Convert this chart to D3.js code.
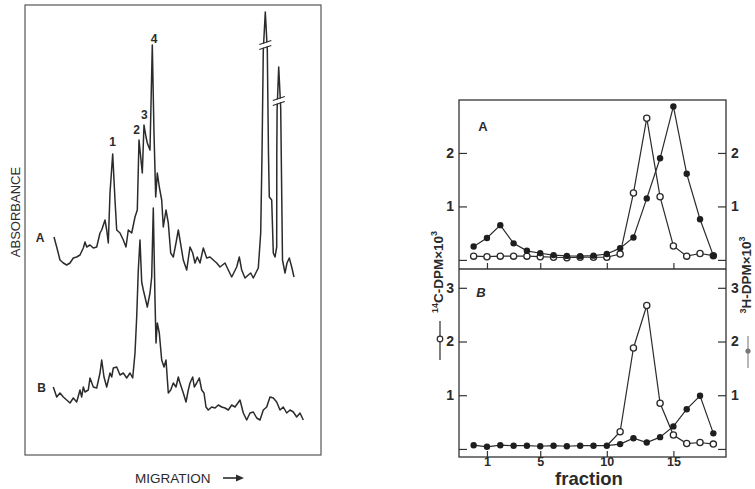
<!DOCTYPE html>
<html lang="en">
<head>
<meta charset="utf-8">
<title>Absorbance traces and fraction profiles</title>
<script src="https://cdn.jsdelivr.net/npm/d3@7"></script>
<style>
	body { margin: 0; background: #fff; }
	svg { display: block; font-family: "Liberation Sans", Arial, sans-serif; }
	.axis path { display: none; }
	.axis line { stroke: #333; stroke-width: 1.2; }
	.axis text { font-family: "Liberation Sans", Arial, sans-serif; font-size: 14px; font-weight: bold; fill: #2a2a2a; }
</style>
</head>
<body>
<script>

//Left panel: densitometer traces (migration position, absorbance, arbitrary units)
var traceAPos = [29, 31.7, 35, 38.3, 41.7, 45, 48.3, 51.7, 55, 58.3, 60, 61.7, 65, 68.3, 71.7, 75, 76.7, 80, 81.7, 83.3,
	85, 87.7, 90, 91.7, 95, 98.3, 101, 103.3, 106.7, 110, 112.3, 114, 115.7, 117.3, 119, 121, 122.3, 125, 127.3, 129,
	130.7, 132.3, 134.3, 136.7, 138.3, 141, 143.3, 145.7, 148.3, 151, 153.3, 155, 158.3, 161.7, 165, 167.7, 170, 172.3, 175, 178.3,
	181.7, 185, 188.3, 191.7, 195, 200, 203.3, 206.7, 211.7, 214.3, 216.7, 220, 223.3, 225.7, 228.3, 233.3, 235.7, 237, 238.3, 240.3,
	242.3, 243.5, 244.3, 246.7, 248.3, 250, 251.7, 251.8, 252.1, 253.7, 255.7, 257.5, 260, 262, 264.3, 266.7, 269];
var traceAVal = [21.8, 20.8, 19.5, 19.2, 19.0, 19.2, 19.7, 19.8, 20.0, 20.7, 21.3, 20.8, 21.0, 20.7, 20.8, 22.2, 22.5, 23.5, 22.5, 21.2,
	26.2, 30.1, 25.5, 22.5, 22.2, 21.5, 20.8, 22.5, 22.2, 23.8, 24.5, 31.5, 29.8, 28.2, 33.0, 31.8, 31.2, 30.5, 41.0, 32.2,
	25.8, 28.2, 26.8, 25.5, 22.8, 24.5, 23.2, 20.2, 19.8, 21.2, 22.5, 21.5, 19.5, 18.5, 20.8, 20.2, 19.2, 19.8, 19.2, 20.7,
	19.7, 19.8, 19.5, 19.2, 18.8, 19.2, 18.5, 17.8, 18.8, 19.8, 18.5, 17.7, 18.0, 18.2, 17.7, 18.7, 22.2, 30.0, 40.5, 44.3,
	40.5, 30.0, 25.8, 25.5, 20.2, 19.8, 20.8, 30.0, 34.5, 38.8, 34.7, 19.5, 18.2, 19.2, 19.7, 18.8, 17.8];

var traceBPos = [28.3, 31.7, 35, 38.3, 41.7, 45, 48.3, 51.7, 55, 56.7, 58.3, 60, 63.3, 65, 68.3, 71.7, 75, 76.7, 79, 81.7,
	85, 86.7, 88.3, 91.7, 95, 98.3, 101.7, 105, 107.7, 110, 111.7, 113.3, 115, 116, 116.7, 118.3, 120, 122.3, 125, 126.7,
	128.3, 130, 131, 132.3, 134.3, 136.7, 139, 141, 143.3, 145.7, 148.3, 151, 153.3, 155, 158.3, 161, 163.3, 165, 167.7, 169.3,
	171.7, 174.3, 176.7, 179, 181, 183.3, 186.7, 190, 193.3, 196.7, 200, 203.3, 206.7, 210, 215, 218.3, 221.7, 225, 228.3, 231.7,
	235, 238.3, 241.7, 245, 248.3, 251.7, 255, 258.3, 261.7, 265, 268.3, 271.7, 275, 278.3];
var traceBVal = [6.8, 5.8, 6.2, 5.8, 5.5, 5.2, 5.7, 5.3, 6.5, 5.8, 6.8, 6.3, 6.5, 7.7, 6.8, 6.7, 8.2, 9.5, 7.8, 6.8,
	8.2, 7.8, 8.7, 8.8, 8.0, 8.2, 7.7, 8.2, 7.7, 10.2, 13.8, 18.5, 21.5, 19.0, 17.3, 16.5, 15.8, 14.8, 16.2, 17.8,
	24.7, 15.5, 11.2, 13.2, 12.2, 9.5, 8.8, 9.5, 6.2, 6.5, 7.2, 6.8, 7.8, 7.2, 6.2, 5.3, 6.5, 7.2, 7.8, 6.8,
	7.2, 7.7, 6.5, 6.2, 4.8, 4.5, 4.8, 4.7, 5.0, 4.8, 4.7, 4.5, 5.0, 4.8, 5.5, 4.2, 3.5, 4.2, 4.3, 3.7,
	3.5, 4.5, 4.8, 5.8, 5.7, 5.3, 4.5, 4.8, 4.2, 4.5, 4.3, 3.8, 4.2, 3.5];

//Off-scale peaks of trace A: where the break marks sit
var breakPos = [240.3, 253.8];
var breakVal = [40.9, 35.3];

//Peak numbers over trace A
var peakNames = ["1", "2", "3", "4"];
var peakPos = [87.7, 111.7, 119.3, 129];
var peakVal = [31.3, 32.5, 34.0, 41.6];

//Right panel: fractions, 14C (open circles) and 3H (filled circles), DPM x 10^3
var fractions = [0, 1, 2, 3, 4, 5, 6, 7, 8, 9, 10, 11, 12, 13, 14, 15, 16, 17, 18];
var carbonA = [0.07, 0.06, 0.07, 0.07, 0.07, 0.06, 0.05, 0.04, 0.05, 0.05, 0.05, 0.11, 1.25, 2.65, 1.18, 0.26, 0.07, 0.12, 0.08];
var tritiumA = [0.25, 0.41, 0.65, 0.31, 0.17, 0.125, 0.09, 0.075, 0.07, 0.08, 0.11, 0.22, 0.42, 1.15, 1.9, 2.87, 1.61, 0.76, 0.08];
var carbonB = [null, null, null, null, null, null, null, null, null, null, 0.06, 0.32, 1.88, 2.67, 0.85, 0.26, 0.1, 0.12, 0.09];
var tritiumB = [0.07, 0.04, 0.07, 0.06, 0.06, 0.05, 0.06, 0.05, 0.06, 0.06, 0.06, 0.09, 0.2, 0.12, 0.22, 0.42, 0.74, 0.99, 0.29];

var fractionTicks = [1, 5, 10, 15];
var ticksA = [0, 1, 2];
var ticksB = [0, 1, 2, 3];

//Width and height
var w = 755;
var h = 489;
var ink = "#2b2b2b";

//Create SVG element
var svg = d3.select("body")
			.append("svg")
			.attr("width", w)
			.attr("height", h);

svg.append("rect").attr("width", w).attr("height", h).attr("fill", "#fff");

// ---------- left panel ----------
var migScale = d3.scaleLinear().domain([0, 296]).range([25, 321]);
var absScale = d3.scaleLinear().domain([0, 45]).range([455, 5]);

svg.append("rect")
	.attr("x", migScale(0))
	.attr("y", absScale(45))
	.attr("width", migScale(296) - migScale(0))
	.attr("height", absScale(0) - absScale(45))
	.attr("fill", "none")
	.attr("stroke", "#555")
	.attr("stroke-width", 1.2);

var traceLine = d3.line()
	.x(function(d) { return migScale(d[0]); })
	.y(function(d) { return absScale(d[1]); });

svg.append("path")
	.datum(d3.zip(traceAPos, traceAVal))
	.attr("d", traceLine)
	.attr("fill", "none")
	.attr("stroke", ink)
	.attr("stroke-width", 1.5)
	.attr("stroke-linejoin", "round");

svg.append("path")
	.datum(d3.zip(traceBPos, traceBVal))
	.attr("d", traceLine)
	.attr("fill", "none")
	.attr("stroke", ink)
	.attr("stroke-width", 1.5)
	.attr("stroke-linejoin", "round");

//Break marks on the two tall peaks
var breaks = svg.selectAll("g.brk")
	.data(d3.zip(breakPos, breakVal))
	.enter()
	.append("g")
	.attr("class", "brk")
	.attr("transform", function(d) { return "translate(" + migScale(d[0]) + "," + absScale(d[1]) + ")"; });

breaks.append("path")
	.attr("d", "M-6,3 L6,-1 L6,-5 L-6,-1 Z")
	.attr("fill", "#fff");
breaks.append("path")
	.attr("d", "M-6,3.5 L6,-0.5 M-6,-1.5 L6,-5.5")
	.attr("stroke", ink)
	.attr("stroke-width", 1.2);

svg.selectAll("text.peak")
	.data(peakNames)
	.enter()
	.append("text")
	.attr("class", "peak")
	.attr("x", function(d, i) { return migScale(peakPos[i]); })
	.attr("y", function(d, i) { return absScale(peakVal[i]); })
	.attr("dy", "0.35em")
	.attr("text-anchor", "middle")
	.attr("font-size", "12px")
	.attr("font-weight", "bold")
	.attr("fill", ink)
	.text(function(d) { return d; });

svg.append("text").attr("x", 40).attr("y", 238).attr("dy", "0.35em")
	.attr("text-anchor", "middle").attr("font-size", "12px").attr("font-weight", "bold").attr("fill", ink).text("A");
svg.append("text").attr("x", 41.5).attr("y", 388).attr("dy", "0.35em")
	.attr("text-anchor", "middle").attr("font-size", "12px").attr("font-weight", "bold").attr("fill", ink).text("B");

svg.append("text")
	.attr("transform", "translate(20,212) rotate(-90)")
	.attr("text-anchor", "middle")
	.attr("font-size", "13px")
	.attr("fill", ink)
	.text("ABSORBANCE");

svg.append("text")
	.attr("x", 135).attr("y", 478).attr("dy", "0.35em")
	.attr("font-size", "13.5px")
	.attr("fill", ink)
	.text("MIGRATION");
svg.append("path")
	.attr("d", "M223,478 L238,478")
	.attr("stroke", ink).attr("stroke-width", 1.6);
svg.append("path")
	.attr("d", "M244,478 L236,474.5 L236,481.5 Z")
	.attr("fill", ink);

// ---------- right panel ----------
var fracScale = d3.scaleLinear().domain([-1.1, 18.95]).range([459, 726]);
var yA = d3.scaleLinear().domain([-0.17, 2.99]).range([269, 100]);
var yB = d3.scaleLinear().domain([-0.15, 3.35]).range([457, 269]);

svg.append("rect")
	.attr("x", 459).attr("y", 100)
	.attr("width", 267).attr("height", 357)
	.attr("fill", "none")
	.attr("stroke", "#333")
	.attr("stroke-width", 1.3);
svg.append("line")
	.attr("x1", 459).attr("x2", 726)
	.attr("y1", yA.range()[0]).attr("y2", yA.range()[0])
	.attr("stroke", "#333").attr("stroke-width", 1.5);

function labelNonZero(d) { return d === 0 ? "" : d; }

//Axes of panel A
svg.append("g").attr("class", "axis")
	.attr("transform", "translate(459,0)")
	.call(d3.axisLeft(yA).tickValues(ticksA).tickSize(-8).tickPadding(5).tickFormat(labelNonZero));
svg.append("g").attr("class", "axis")
	.attr("transform", "translate(726,0)")
	.call(d3.axisRight(yA).tickValues(ticksA).tickSize(-8).tickPadding(5).tickFormat(labelNonZero));
svg.append("g").attr("class", "axis")
	.attr("transform", "translate(0," + yA.range()[0] + ")")
	.call(d3.axisBottom(fracScale).tickValues(fractionTicks).tickSize(-6).tickFormat(""));

//Axes of panel B
svg.append("g").attr("class", "axis")
	.attr("transform", "translate(459,0)")
	.call(d3.axisLeft(yB).tickValues(ticksB).tickSize(-8).tickPadding(5).tickFormat(labelNonZero));
svg.append("g").attr("class", "axis")
	.attr("transform", "translate(726,0)")
	.call(d3.axisRight(yB).tickValues(ticksB).tickSize(-8).tickPadding(5).tickFormat(labelNonZero));
var xAxisB = svg.append("g").attr("class", "axis")
	.attr("transform", "translate(0,457)")
	.call(d3.axisBottom(fracScale).tickValues(fractionTicks).tickSize(-6).tickPadding(0));
xAxisB.selectAll("text").style("font-size", "12.5px");

function drawSeries(yScale, values) {
	var pts = d3.zip(fractions, values).filter(function(d) { return d[1] != null; });
	var line = d3.line()
		.x(function(d) { return fracScale(d[0]); })
		.y(function(d) { return yScale(d[1]); });
	svg.append("path")
		.datum(pts)
		.attr("d", line)
		.attr("fill", "none")
		.attr("stroke", ink)
		.attr("stroke-width", 1.2);
	return pts;
}

function drawMarks(yScale, pts, open) {
	svg.append("g")
		.selectAll("circle")
		.data(pts)
		.enter()
		.append("circle")
		.attr("cx", function(d) { return fracScale(d[0]); })
		.attr("cy", function(d) { return yScale(d[1]); })
		.attr("r", open ? 3.1 : 3.2)
		.attr("fill", open ? "#fff" : "#1e1e1e")
		.attr("stroke", open ? ink : "none")
		.attr("stroke-width", 1.3);
}

var pCA = drawSeries(yA, carbonA);
var pTA = drawSeries(yA, tritiumA);
drawMarks(yA, pCA, true);
drawMarks(yA, pTA, false);

var pCB = drawSeries(yB, carbonB);
var pTB = drawSeries(yB, tritiumB);
drawMarks(yB, pCB.slice(1), true);
drawMarks(yB, pTB, false);

svg.append("text").attr("x", 483).attr("y", 126).attr("dy", "0.35em")
	.attr("text-anchor", "middle").attr("font-size", "13px").attr("font-weight", "bold").attr("fill", ink).text("A");
svg.append("text").attr("x", 481).attr("y", 292).attr("dy", "0.35em")
	.attr("text-anchor", "middle").attr("font-size", "13px").attr("font-weight", "bold")
	.attr("font-style", "italic").attr("fill", ink).text("B");

svg.append("text")
	.attr("x", 589).attr("y", 485)
	.attr("text-anchor", "middle")
	.attr("font-size", "18.5px")
	.attr("font-weight", "bold")
	.attr("fill", ink)
	.text("fraction");

//Left y label with its open circle key
var leftLab = svg.append("text")
	.attr("transform", "translate(443,272) rotate(-90)")
	.attr("text-anchor", "middle")
	.attr("font-size", "13.5px")
	.attr("font-weight", "bold")
	.attr("fill", ink);
leftLab.append("tspan").attr("font-size", "9px").attr("dy", "-5").text("14");
leftLab.append("tspan").attr("dy", "5").text("C-DPM\u00d710");
leftLab.append("tspan").attr("font-size", "9px").attr("dy", "-6").text("3");

svg.append("line").attr("x1", 440).attr("x2", 440).attr("y1", 321).attr("y2", 360)
	.attr("stroke", ink).attr("stroke-width", 1.2);
svg.append("circle").attr("cx", 440).attr("cy", 339).attr("r", 2.8)
	.attr("fill", "#fff").attr("stroke", ink).attr("stroke-width", 1.2);

//Right y label with its filled circle key
var rightLab = svg.append("text")
	.attr("transform", "translate(751,275) rotate(-90)")
	.attr("text-anchor", "middle")
	.attr("font-size", "13.5px")
	.attr("font-weight", "bold")
	.attr("fill", ink);
rightLab.append("tspan").attr("font-size", "9px").attr("dy", "-5").text("3");
rightLab.append("tspan").attr("dy", "5").text("H-DPM\u00d710");
rightLab.append("tspan").attr("font-size", "9px").attr("dy", "-6").text("3");

svg.append("line").attr("x1", 748).attr("x2", 748).attr("y1", 336).attr("y2", 368)
	.attr("stroke", "#888").attr("stroke-width", 1.2);
svg.append("circle").attr("cx", 748).attr("cy", 351).attr("r", 2.6).attr("fill", "#777");

</script>
</body>
</html>
